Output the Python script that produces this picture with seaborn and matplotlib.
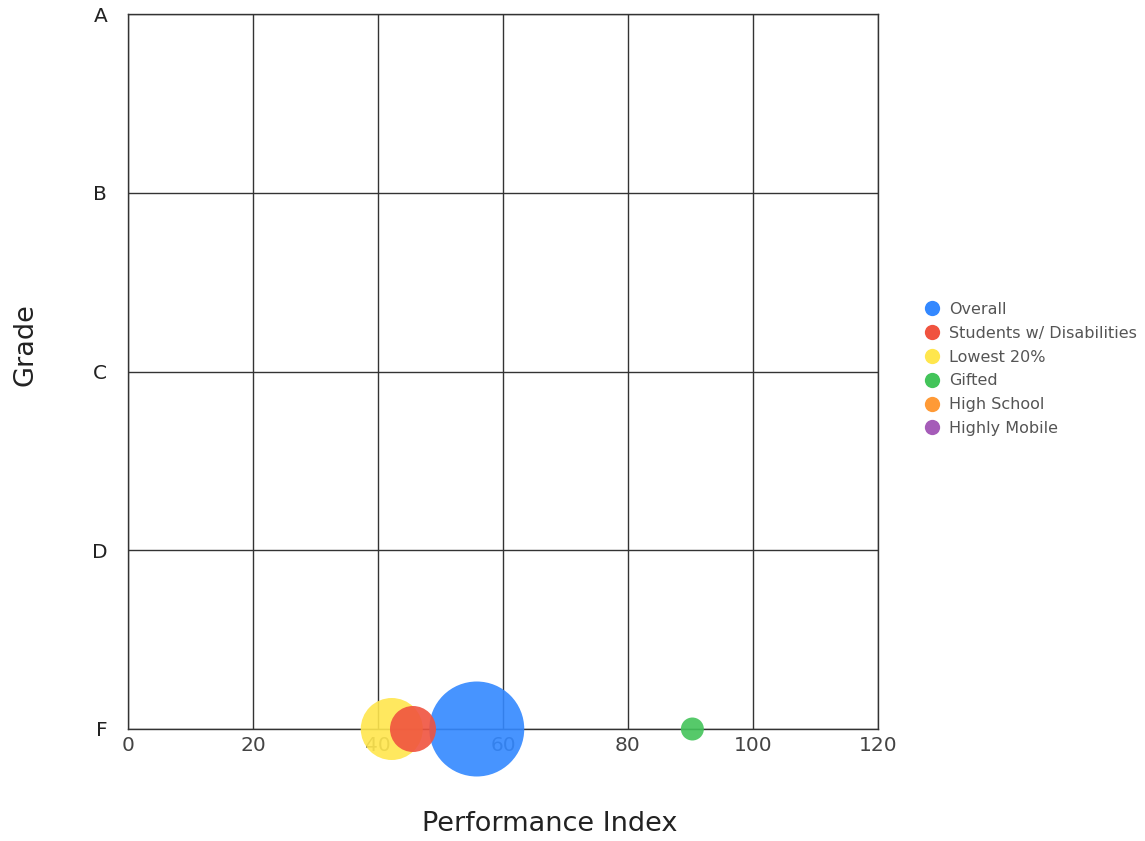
import matplotlib
matplotlib.use("Agg")
import matplotlib.pyplot as plt
from matplotlib.lines import Line2D
import seaborn as sns
import pandas as pd

# Data
groups = ["Overall", "Students w/ Disabilities", "Lowest 20%", "Gifted"]
performance_index = [55.8, 45.6, 42.2, 90.3]
grade_value = [0, 0, 0, 0]          # F = 0, D = 1, C = 2, B = 3, A = 4
bubble_size = [4678, 1097, 1993, 274]

legend_groups = ["Overall", "Students w/ Disabilities", "Lowest 20%", "Gifted",
                 "High School", "Highly Mobile"]
legend_colors = ["#3388ff", "#f0533f", "#ffe64d", "#43c45a", "#ff9a36", "#a55cb8"]
grade_ticks = [0, 1, 2, 3, 4]
grade_labels = ["F", "D", "C", "B", "A"]
x_ticks = [0, 20, 40, 60, 80, 100, 120]

sns.set_theme(style="white")
plt.rcParams['font.family'] = ['DejaVu Sans']

df = pd.DataFrame({"group": groups, "pi": performance_index,
                   "grade": grade_value, "size": bubble_size})
df = df.sort_values("size", ascending=False)

fig = plt.figure(figsize=(11.45, 8.41), dpi=100)
ax = fig.add_axes([128/1145, 1-729/841, (878-128)/1145, (729-14)/841])

palette = dict(zip(legend_groups, legend_colors))
for _, row in df.iterrows():
    sub = df[df["group"] == row["group"]]
    sns.scatterplot(data=sub, x="pi", y="grade", hue="group", palette=palette,
                    s=row["size"], alpha=0.9, edgecolor="none", legend=False,
                    ax=ax, clip_on=False, zorder=5)

ax.set_xlim(0, 120)
ax.set_ylim(0, 4)
ax.set_xticks(x_ticks)
ax.set_xticklabels([str(t) for t in x_ticks], fontsize=14.5, color="#444444")
ax.set_yticks(grade_ticks)
ax.set_yticklabels(grade_labels, fontsize=14.5, color="#222222")
ax.tick_params(axis="x", length=0, pad=5)
ax.tick_params(axis="y", length=0, pad=15)
ax.grid(True, color="#333333", linewidth=1)
ax.set_axisbelow(True)
for sp in ax.spines.values():
    sp.set_color("#333333")
    sp.set_linewidth(1)

ax.set_xlabel("")
ax.set_ylabel("")
fig.text(550/1145, 1-824/841, "Performance Index", fontsize=19.5, color="#222222",
         ha="center", va="center")
fig.text(25/1145, 1-345/841, "Grade", fontsize=19.5, color="#222222",
         ha="center", va="center", rotation=90)

handles = [Line2D([0], [0], marker="o", linestyle="none", markersize=11,
                  markerfacecolor=c, markeredgecolor="none") for c in legend_colors]
fig.legend(handles, legend_groups, loc="upper left",
           bbox_to_anchor=(922/1145, 1-302/841), frameon=False, fontsize=11.5,
           labelcolor="#555555", handletextpad=0.52, labelspacing=0.55,
           handlelength=1.2, borderaxespad=0, borderpad=0)

fig.savefig("out.png", dpi=100)
